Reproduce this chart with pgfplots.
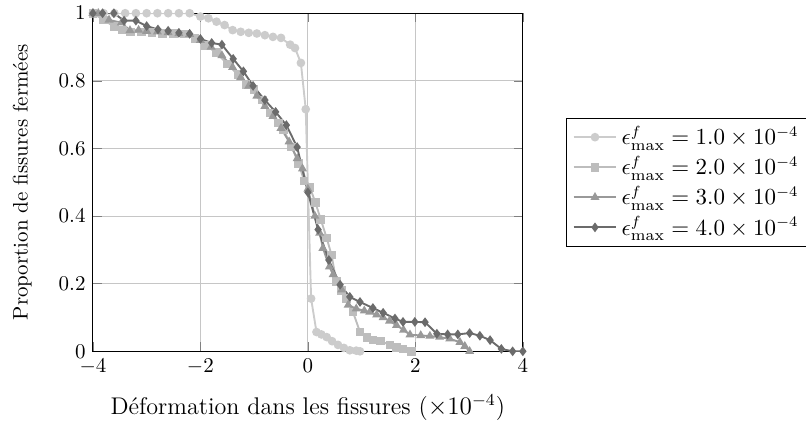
\documentclass[border=0pt]{standalone}
\usepackage{fontspec}
\usepackage{pgfplots}
\pgfplotsset{compat=1.18}
\definecolor{c1}{gray}{0.80}
\definecolor{c2}{gray}{0.74}
\definecolor{c3}{gray}{0.60}
\definecolor{c4}{gray}{0.42}
\begin{document}
\begin{tikzpicture}
\begin{axis}[
  scale only axis,
  width=205pt, height=161.2pt,
  xmin=-4, xmax=4, ymin=0, ymax=1,
  xtick={-4,-2,0,2,4},
  ytick={0,0.2,0.4,0.6,0.8,1},
  grid=major,
  major grid style={gray!45, line width=0.5pt},
  xlabel={Déformation dans les fissures ($\times10^{-4}$)},
  xlabel style={font=\fontsize{11.5}{13}\selectfont},
  xlabel shift=3pt,
  ylabel={Proportion de fissures fermées},
  ylabel shift=6pt,
  legend style={at={(1.1,0.5)}, anchor=west, draw=black, fill=white,
    cells={anchor=west}, font=\fontsize{10.7}{12.5}\selectfont},
  legend image code/.code={\draw[mark repeat=2,mark phase=2] plot coordinates {(0cm,0cm) (0.36cm,0cm) (0.72cm,0cm)};},
  every axis plot/.append style={line width=0.9pt, mark size=1.6pt},
]
\addplot[c1, mark=*, mark options={fill=c1, draw=c1}] coordinates {
(-4,1) (-3.8,1) (-3.6,1) (-3.4,1) (-3.2,1) (-3.0,1) (-2.8,1) (-2.6,1) (-2.4,1) (-2.2,1)
(-2.0,0.99) (-1.85,0.985) (-1.7,0.975) (-1.55,0.965) (-1.4,0.95) (-1.25,0.945) (-1.1,0.942)
(-0.95,0.94) (-0.8,0.935) (-0.65,0.93) (-0.5,0.927) (-0.33,0.907) (-0.24,0.897) (-0.13,0.853)
(-0.04,0.716) (0.06,0.156) (0.16,0.057) (0.25,0.05) (0.35,0.042) (0.45,0.03) (0.56,0.019)
(0.67,0.01) (0.78,0.003) (0.9,0.002) (0.97,0)
};
\addlegendentry{$\epsilon^f_{\max} = 1.0\times10^{-4}$}
\addplot[c2, mark=square*, mark options={fill=c2, draw=c2}] coordinates {
(-4,1) (-3.8,0.98) (-3.6,0.96) (-3.45,0.95) (-3.3,0.945) (-3.1,0.945) (-2.9,0.943) (-2.7,0.94)
(-2.5,0.94) (-2.3,0.938) (-2.1,0.925) (-1.9,0.905) (-1.7,0.883) (-1.5,0.85) (-1.3,0.818)
(-1.15,0.79) (-1.0,0.775) (-0.85,0.743) (-0.7,0.705) (-0.55,0.675) (-0.45,0.654) (-0.3,0.604)
(-0.17,0.555) (-0.07,0.504) (0.04,0.484) (0.14,0.44) (0.24,0.39) (0.35,0.335) (0.44,0.285)
(0.53,0.206) (0.62,0.18) (0.72,0.156) (0.84,0.116) (0.97,0.057) (1.1,0.04) (1.21,0.033)
(1.35,0.03) (1.53,0.019) (1.65,0.012) (1.77,0.007) (1.93,0)
};
\addlegendentry{$\epsilon^f_{\max} = 2.0\times10^{-4}$}
\addplot[c3, mark=triangle*, mark options={fill=c3, draw=c3}] coordinates {
(-4,1) (-3.9,1.0) (-3.7,0.98) (-3.47,0.972) (-3.31,0.949) (-3.15,0.95) (-3.0,0.947) (-2.8,0.945)
(-2.6,0.943) (-2.4,0.94) (-2.2,0.938) (-2.0,0.92) (-1.8,0.9) (-1.6,0.875) (-1.4,0.84)
(-1.25,0.81) (-1.1,0.785) (-0.95,0.755) (-0.8,0.725) (-0.65,0.695) (-0.5,0.66) (-0.35,0.62)
(-0.2,0.57) (-0.1,0.54) (0.0,0.48) (0.13,0.4) (0.22,0.35) (0.28,0.305) (0.4,0.25) (0.47,0.227)
(0.63,0.182) (0.75,0.137) (0.9,0.126) (1.05,0.12) (1.15,0.116) (1.28,0.108) (1.4,0.1)
(1.52,0.09) (1.65,0.077) (1.78,0.063) (1.9,0.049) (2.1,0.047) (2.27,0.045) (2.45,0.042)
(2.64,0.037) (2.83,0.027) (2.92,0.015) (3.01,0)
};
\addlegendentry{$\epsilon^f_{\max} = 3.0\times10^{-4}$}
\addplot[c4, mark=diamond*, mark options={fill=c4, draw=c4}] coordinates {
(-4,1) (-3.82,1.0) (-3.61,1.0) (-3.42,0.978) (-3.2,0.978) (-3.0,0.962) (-2.79,0.952) (-2.6,0.948)
(-2.4,0.942) (-2.2,0.939) (-2.0,0.924) (-1.79,0.912) (-1.6,0.907) (-1.39,0.865) (-1.2,0.828)
(-1.02,0.785) (-0.8,0.743) (-0.6,0.708) (-0.4,0.669) (-0.2,0.604) (0.0,0.47) (0.19,0.36)
(0.39,0.27) (0.6,0.197) (0.78,0.161) (0.97,0.146) (1.21,0.128) (1.4,0.114) (1.62,0.097)
(1.77,0.087) (1.99,0.087) (2.18,0.086) (2.4,0.052) (2.6,0.05) (2.79,0.05) (3.01,0.054)
(3.2,0.046) (3.39,0.033) (3.6,0.007) (3.81,0) (4.0,0)
};
\addlegendentry{$\epsilon^f_{\max} = 4.0\times10^{-4}$}
\coordinate (bl) at (rel axis cs:0,0);
\coordinate (tr) at (rel axis cs:1,1);
\end{axis}
\pgfresetboundingbox
\path ([shift={(-44.3pt,-36.5pt)}]bl) rectangle ([shift={(135pt,6.3pt)}]tr);
\end{tikzpicture}
\end{document}
